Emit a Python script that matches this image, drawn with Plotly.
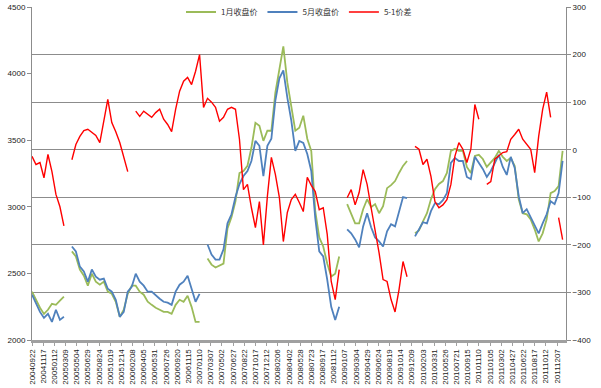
import pandas as pd
import plotly.graph_objects as go

# sample dates (one sample every 20 calendar days from the first trading day shown)
dates = pd.date_range("2004-09-22", periods=134, freq="20D")

N = None
jan_close = [
    2363, 2302, 2242, 2196, 2227, 2272, 2264, 2295, 2325, N,
    2665, 2627, 2529, 2483, 2408, 2498, 2438, 2415, 2438, 2363,
    2347, 2287, 2174, 2227, 2347, 2408, 2408, 2363, 2340, 2287,
    2264, 2242, 2227, 2211, 2211, 2196, 2264, 2302, 2287, 2332,
    2249, 2136, 2136, N,
    2612, 2566, 2544, 2559, 2574, 2838, 2921, 3042, 3254, 3269,
    3307, 3443, 3631, 3609, 3495, 3571, 3571, 3858, 4039, 4205,
    3934, 3760, 3571, 3594, 3684, 3511, 3420, 2967, 2770, 2702,
    2574, 2476, 2498, 2627, N,
    3020, 2944, 2876, 2876, 2982, 3057, 2997, 3020, 2952, 3005,
    3140, 3163, 3193, 3254, 3307, 3344, N,
    2801, 2823, 2891, 2952, 3057, 3133, 3171, 3193, 3254, 3420,
    3435, 3420, 3420, 3299, 3254, 3382, 3390, 3359, 3299, 3337,
    3367, 3420, 3375, 3344, 3367, 3307, 3057, 2952, 2944, 2906,
    2831, 2740, 2801, 2906, 3103, 3118, 3156, 3420,
]

may_close = [
    2340, 2272, 2211, 2166, 2196, 2136, 2227, 2151, 2174, N,
    2702, 2665, 2551, 2514, 2438, 2529, 2476, 2453, 2461, 2385,
    2363, 2302, 2174, 2211, 2363, 2400, 2498, 2438, 2408, 2363,
    2363, 2340, 2310, 2287, 2280, 2264, 2363, 2415, 2438, 2483,
    2385, 2287, 2347, N,
    2717, 2642, 2604, 2604, 2680, 2876, 2944, 3073, 3171, 3231,
    3269, 3344, 3495, 3458, 3231, 3458, 3511, 3798, 3964, 4024,
    3820, 3647, 3420, 3495, 3480, 3397, 3269, 2914, 2665, 2627,
    2453, 2249, 2151, 2249, N,
    2831, 2801, 2755, 2695, 2853, 2952, 2846, 2770, 2740, 2702,
    2816, 2869, 2853, 2967, 3073, 3065, N,
    2778, 2831, 2884, 2876, 2967, 3027, 3020, 3050, 3103, 3329,
    3367, 3344, 3344, 3224, 3208, 3375, 3329, 3284, 3224, 3269,
    3329, 3390, 3299, 3239, 3375, 3291, 3080, 2952, 2982, 2921,
    2853, 2801, 2876, 2944, 3042, 3020, 3103, 3344,
]

spread_5_1 = [
    -14, -31, -27, -59, -10, -46, -94, -120, -160, N,
    -21, 11, 28, 40, 43, 36, 30, 15, 64, 106,
    57, 38, 15, -16, -46, N,
    81, 70, 81, 74, 68, 78, 85, 64, 53, 38,
    85, 123, 144, 152, 137, 165, 200, 89,
    108, 100, 89, 60, 68, 85, 89, 85, 22, -84,
    -73, -122, -164, -109, -200, -98, -16, -52, -100, -193,
    -132, -105, -94, -111, -130, -58, -75, -88, -126, -122,
    -178, -277, -315, -252, N,
    -101, -84, -116, -90, -42, -73, -122, -168, -217, -273,
    -277, -315, -341, -294, -235, -267, N,
    7, 1, -31, -20, -56, -109, -122, -116, -105, -73,
    -14, 15, 1, -27, 1, 95, 64, N,
    -73, -67, -20, -12, -6, -4, 22, 32, 43, 22,
    11, 1, -48, 28, 85, 121, 68, N,
    -143, -189,
]

tick_labels = [
    "20040922", "20041117", "20050112", "20050309", "20050504", "20050629",
    "20050824", "20051019", "20051214", "20060208", "20060405", "20060531",
    "20060726", "20060920", "20061115", "20070110", "20070307", "20070502",
    "20070627", "20070822", "20071017", "20071212", "20080206", "20080402",
    "20080528", "20080723", "20080917", "20081112", "20090107", "20090304",
    "20090429", "20090624", "20090819", "20091014", "20091209", "20100203",
    "20100331", "20100526", "20100721", "20100915", "20101110", "20110105",
    "20110302", "20110427", "20110622", "20110817", "20111012", "20111207",
]
tick_vals = pd.to_datetime(tick_labels, format="%Y%m%d")

series_names = ["1月收盘价", "5月收盘价", "5-1价差"]
colors = ["#9BBB59", "#4F81BD", "#FF0000"]

fig = go.Figure()
fig.add_trace(go.Scatter(x=dates, y=jan_close, name=series_names[0], mode="lines",
                         line=dict(color=colors[0], width=1.8)))
fig.add_trace(go.Scatter(x=dates, y=may_close, name=series_names[1], mode="lines",
                         line=dict(color=colors[1], width=1.8)))
fig.add_trace(go.Scatter(x=dates, y=spread_5_1, name=series_names[2], mode="lines",
                         line=dict(color=colors[2], width=1.4), yaxis="y2"))

tick_font = dict(family="Liberation Sans, Arial, sans-serif", size=8, color="#222222")

fig.update_layout(
    width=601, height=388,
    margin=dict(l=32, r=35, t=7, b=48, pad=0, autoexpand=False),
    paper_bgcolor="white", plot_bgcolor="white",
    showlegend=True,
    legend=dict(orientation="h", x=0.5, xanchor="center", y=0.985, yanchor="middle",
                font=dict(family="Noto Sans CJK SC", size=8, color="#333333"),
                itemwidth=30, bgcolor="rgba(255,255,255,0)", tracegroupgap=0),
    xaxis=dict(type="date", range=["2004-09-22", "2012-01-21"], automargin=False,
               tickvals=tick_vals, ticktext=tick_labels, tickangle=-90,
               tickfont=tick_font, showgrid=False, zeroline=False,
               showline=True, linecolor="#A0A0A0", linewidth=3,
               ticks="outside", ticklen=3, tickcolor="#A0A0A0"),
    yaxis=dict(range=[2000, 4500], dtick=500, tickfont=tick_font, automargin=False,
               showgrid=False, zeroline=False, showline=True,
               linecolor="#8C8C8C", linewidth=1, ticks="outside",
               ticklen=4, tickcolor="#8C8C8C"),
    yaxis2=dict(range=[-400, 300], dtick=100, overlaying="y", side="right",
                tickfont=tick_font, showgrid=True, gridcolor="#8C8C8C", automargin=False,
                gridwidth=1, zeroline=False, showline=True,
                linecolor="#8C8C8C", linewidth=1, ticks="outside",
                ticklen=4, tickcolor="#8C8C8C"),
)

# remove the browser's default 8px body margin so the figure fills the window
fig.write_html("out.html", config={"displayModeBar": False},
               post_script="document.body.style.margin='0';document.body.style.overflow='hidden';")
